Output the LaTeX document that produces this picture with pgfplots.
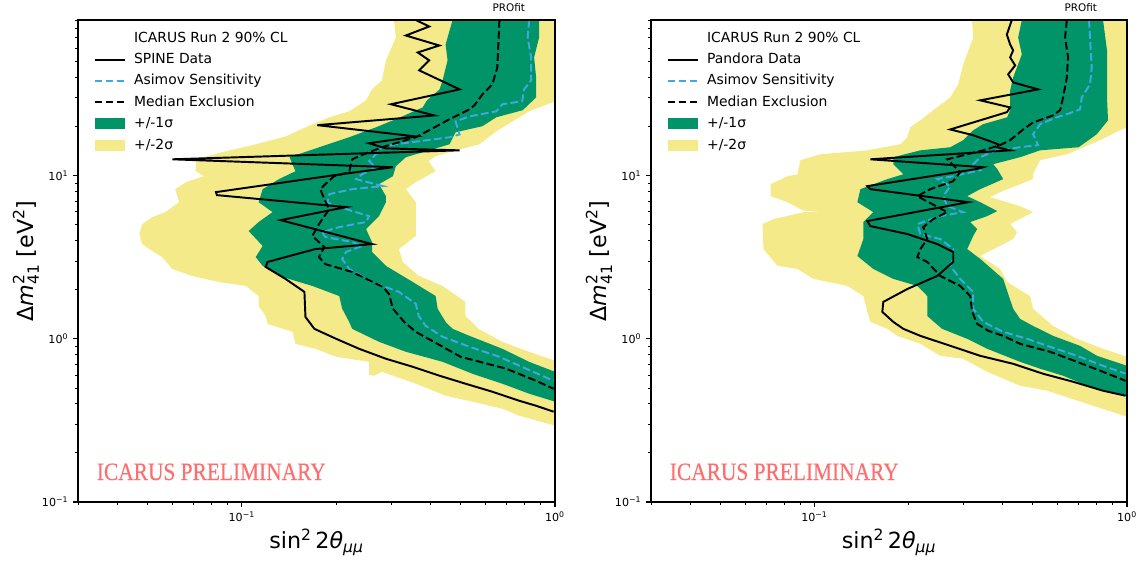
\documentclass[border=0pt]{standalone}
\usepackage{pgfplots}
\pgfplotsset{compat=1.18}
\usepackage{fontspec}
\setmainfont{DejaVu Sans}
\newfontfamily\prelimfont[FakeStretch=0.856, FakeBold=0.3]{Liberation Serif}
\definecolor{sigone}{RGB}{0,148,104}
\definecolor{sigtwo}{RGB}{245,234,138}
\definecolor{asim}{RGB}{60,170,225}
\definecolor{prelim}{RGB}{255,110,110}
\newcommand{\tkl}[1]{10$^{\hbox{\fontsize{5.6}{6}\selectfont #1}}$}
\newcommand{\lsz}[1]{\hbox{\fontsize{11.2}{12}\selectfont #1}}
\tikzset{
  datal/.style={black, line width=1.4pt},
  medl/.style={black, line width=1.4pt, dash pattern=on 5.55pt off 2.4pt},
  asil/.style={asim, line width=1.4pt, dash pattern=on 5.55pt off 2.4pt},
}
\pgfplotsset{
  scale only axis, height=347.04pt,
  xmin=0.03, xmax=1, ymin=0.1, ymax=90,
  xtick={0.1,1}, xticklabels={\tkl{−1},\tkl{0}},
  ytick={0.1,1,10}, yticklabels={\tkl{−1},\tkl{0},\tkl{1}},
  minor xtick={0.03,0.04,0.05,0.06,0.07,0.08,0.09,0.2,0.3,0.4,0.5,0.6,0.7,0.8,0.9},
  minor ytick={0.2,0.3,0.4,0.5,0.6,0.7,0.8,0.9,2,3,4,5,6,7,8,9,20,30,40,50,60,70,80,90},
  tick align=outside, xtick pos=left, ytick pos=left,
  major tick length=3.5pt, minor tick length=2pt,
  major tick style={line width=0.8pt, black},
  minor tick style={line width=0.6pt, black},
  axis line style={line width=0.8pt, black},
  ticklabel style={font=\fontsize{8}{9.6}\selectfont},
  every axis x label/.style={at={(axis description cs:0.5,-0.0974)}, anchor=base, font=\fontsize{16}{19}\selectfont},
  every axis y label/.style={at={(axis description cs:-0.0943,0.5)}, rotate=90, anchor=base, font=\fontsize{16}{19}\selectfont},
  axis on top,
  legend style={at={(0.0327,0.9787)}, anchor=north west, draw=none, fill=none,
    inner sep=0pt, outer sep=0pt, row sep=3.9pt, column sep=5.2pt,
    font=\fontsize{10}{12}\selectfont,
    nodes={inner sep=1pt, text height=7.5pt, text depth=2pt}},
  legend cell align=left,
  extra description/.code={
    \node[anchor=base, font=\fontsize{7.5}{9}\selectfont] at (0.903,1.0167) {PROfit};
    \node[anchor=base west, inner sep=0pt, text=prelim, font=\prelimfont\fontsize{18}{21}\selectfont] at (0.039,0.0456) {ICARUS PRELIMINARY};
  },
}
\newcommand{\legendrest}{%
  \addlegendimage{legend image code/.code={\path[draw=none,fill=none] (0pt,-3.9pt) rectangle (21.6pt,3.9pt); \draw[asil] (0pt,0pt) -- (21.6pt,0pt);}}\addlegendentry{Asimov Sensitivity}
  \addlegendimage{legend image code/.code={\path[draw=none,fill=none] (0pt,-3.9pt) rectangle (21.6pt,3.9pt); \draw[medl] (0pt,0pt) -- (21.6pt,0pt);}}\addlegendentry{Median Exclusion}
  \addlegendimage{legend image code/.code={\fill[sigone, draw=none] (0pt,-3.9pt) rectangle (21.6pt,3.9pt);}}\addlegendentry{+/-1σ}
  \addlegendimage{legend image code/.code={\fill[sigtwo, draw=none] (0pt,-3.9pt) rectangle (21.6pt,3.9pt);}}\addlegendentry{+/-2σ}
}
\begin{document}
\begin{tikzpicture}
\useasboundingbox (0,0) rectangle (824.4pt,403.92pt);
% ---------------- left panel: SPINE ----------------
\begin{axis}[xmode=log, ymode=log, at={(56.16pt,42.48pt)}, anchor=south west, width=343.44pt,
  xlabel={sin$^{\lsz{2}}$\,2\textit{θ}$_{\lsz{\textit{μμ}}}$},
  ylabel={Δ\textit{m}$^{\lsz{2}}_{\lsz{41}}$ [eV$^{\lsz{2}}$]}]
\addplot[fill=sigtwo, draw=none, forget plot] coordinates {
(0.3060,90) (0.3105,70.3) (0.2886,50.9) (0.2803,38.4) (0.2605,33.8) (0.2493,28.96) (0.2202,24.8) (0.1903,22.8) (0.1597,19.8) (0.1379,17.4) (0.1108,15.58) (0.0864,13.92) (0.0714,12.6) (0.0714,10.65) (0.0757,9.93) (0.0664,9.13) (0.0613,8.27) (0.0631,6.88) (0.0570,5.98) (0.0518,5.57) (0.0481,5.05) (0.0471,4.39) (0.0481,3.81) (0.0518,3.45) (0.0557,3.17) (0.0600,2.68) (0.0694,2.43) (0.0845,2.23) (0.1030,2.11) (0.1132,1.83) (0.1132,1.59) (0.1192,1.38) (0.1209,1.235) (0.1452,1.104) (0.1484,0.932) (0.1717,0.869) (0.2002,0.776) (0.2549,0.723) (0.2549,0.602) (0.2643,0.594) (0.2803,0.628) (0.3594,0.531) (0.4475,0.448) (0.5451,0.412) (0.679,0.373) (0.7686,0.338) (1,0.2937)
(1,0.734) (0.827,0.833) (0.679,0.959) (0.5695,1.152) (0.5179,1.38) (0.5179,1.684) (0.4377,2.11) (0.3673,2.43) (0.3268,2.96) (0.3174,3.55) (0.3594,4.27) (0.3594,5.42) (0.3594,6.88) (0.3342,8.27) (0.3594,9.13) (0.4159,10.65) (0.3953,12.27) (0.4159,13.16) (0.471,14.1) (0.5738,15.58) (0.6496,18.72) (0.827,24.8) (1,28.56) (1,90)
};
\addplot[fill=sigone, draw=none, forget plot] coordinates {
(0.471,90) (0.4607,77.6) (0.4475,63.7) (0.4540,50.9) (0.4377,38.4) (0.4281,33.8) (0.3900,28.96) (0.378,26.2) (0.3105,22.2) (0.2683,19.8) (0.2202,17.2) (0.1768,14.94) (0.1421,12.98) (0.1484,10.65) (0.1315,9.53) (0.1166,8.27) (0.1132,6.88) (0.1254,5.98) (0.1132,5.20) (0.1052,4.58) (0.1166,3.71) (0.1108,3.17) (0.1166,2.80) (0.1315,2.43) (0.1680,2.11) (0.2047,1.83) (0.2092,1.53) (0.2202,1.27) (0.2251,1.152) (0.2742,0.959) (0.3342,0.833) (0.4377,0.723) (0.5451,0.611) (0.679,0.531) (0.827,0.461) (1,0.412)
(1,0.628) (0.827,0.723) (0.679,0.869) (0.5333,1.043) (0.471,1.152) (0.4475,1.27) (0.4220,1.53) (0.4159,1.83) (0.3516,2.23) (0.2886,2.80) (0.2605,3.41) (0.2605,3.92) (0.2493,4.71) (0.2742,5.65) (0.2886,6.88) (0.2886,7.49) (0.2742,8.87) (0.3038,9.93) (0.3105,11.43) (0.3342,12.98) (0.3867,14.1) (0.4607,15.58) (0.4815,18.45) (0.5864,20.1) (0.6496,22.8) (0.7887,25.2) (0.8705,30.2) (0.8705,40.0) (0.8577,53.1) (0.8895,70.3) (0.8895,90)
};
\addplot[asil, forget plot] coordinates {
(0.827,90) (0.818,70.3) (0.839,53.1) (0.839,38.4) (0.797,33.8) (0.786,28.6) (0.679,27.4) (0.6496,24.8) (0.5333,23.1) (0.4815,21.5) (0.4958,17.9) (0.4607,17.2) (0.3105,15.58) (0.2803,14.94) (0.2683,13.53) (0.2549,12.27) (0.2683,11.27) (0.2422,10.2) (0.2318,9.53) (0.2823,8.63) (0.2251,8.27) (0.1903,7.71) (0.1875,6.88) (0.2047,6.42) (0.2549,5.65) (0.2493,5.20) (0.2047,4.84) (0.1807,4.51) (0.1848,4.21) (0.2251,3.92) (0.2422,3.71) (0.2154,3.41) (0.2092,3.09) (0.2202,2.68) (0.2605,2.23) (0.3174,1.94) (0.3594,1.64) (0.3673,1.38) (0.3867,1.20) (0.4377,1.03) (0.5333,0.894) (0.6645,0.776) (0.809,0.656) (0.99,0.553)
};
\addplot[medl, forget plot] coordinates {
(0.6645,90) (0.6545,46.1) (0.6310,36.3) (0.5864,31.5) (0.5532,27.0) (0.5333,25.5) (0.4607,22.2) (0.413,19.8) (0.3594,17.2) (0.2803,14.94) (0.2454,13.53) (0.2251,12.6) (0.2202,10.5) (0.1973,9.93) (0.1848,8.87) (0.1781,8.27) (0.1835,7.18) (0.1903,6.24) (0.1764,5.05) (0.1680,4.27) (0.1835,3.65) (0.1764,3.17) (0.1848,2.87) (0.2251,2.57) (0.2823,2.08) (0.2950,1.885) (0.3038,1.53) (0.33,1.27) (0.3594,1.104) (0.41,0.959) (0.50,0.776) (0.6990,0.656) (0.8705,0.553) (0.99,0.494)
};
\addplot[datal, forget plot] coordinates {
(0.3594,90) (0.3967,82.1) (0.3342,72.3) (0.4271,62.8) (0.3647,56.9) (0.3967,50.9) (0.3686,44.2) (0.4958,33.8) (0.2994,27.4) (0.4118,23.4) (0.1743,20.4) (0.3594,17.4) (0.2549,15.8) (0.2886,14.7) (0.4958,14.3) (0.0600,12.6) (0.3038,11.27) (0.1973,10.07) (0.0827,7.93) (0.0833,7.60) (0.2154,6.42) (0.1330,5.34) (0.2605,3.81) (0.1717,3.55) (0.1379,3.17) (0.1209,2.96) (0.1192,2.76) (0.1379,2.33) (0.1585,1.94) (0.1597,1.363) (0.1705,1.152) (0.2002,1.0) (0.2369,0.869) (0.2886,0.755) (0.3516,0.674) (0.4281,0.594) (0.5179,0.531) (0.6310,0.474) (0.7686,0.4176) (0.8705,0.389) (0.99,0.3577)
};
\addlegendimage{empty legend}\addlegendentry{ICARUS Run 2 90\% CL}
\addlegendimage{legend image code/.code={\path[draw=none,fill=none] (0pt,-3.9pt) rectangle (21.6pt,3.9pt); \draw[datal] (0pt,0pt) -- (21.6pt,0pt);}}\addlegendentry{SPINE Data}
\legendrest
\end{axis}
% ---------------- right panel: Pandora ----------------
\begin{axis}[xmode=log, ymode=log, at={(468.72pt,42.48pt)}, anchor=south west, width=342.72pt,
  xlabel={sin$^{\lsz{2}}$\,2\textit{θ}$_{\lsz{\textit{μμ}}}$},
  ylabel={Δ\textit{m}$^{\lsz{2}}_{\lsz{41}}$ [eV$^{\lsz{2}}$]}]
\addplot[fill=sigtwo, draw=none, forget plot] coordinates {
(0.3191,90) (0.3221,70.3) (0.2992,48.1) (0.2884,36.3) (0.2719,30.2) (0.2400,25.2) (0.2182,21.85) (0.2026,19.8) (0.1982,17.2) (0.1883,15.58) (0.1477,14.3) (0.1045,13.53) (0.0902,12.44) (0.0882,10.2) (0.0820,9.93) (0.0724,8.87) (0.0724,7.49) (0.0820,6.88) (0.0922,6.1) (0.1045,6.07) (0.0922,5.98) (0.0740,5.42) (0.0682,5.05) (0.0687,3.55) (0.0762,2.80) (0.0882,2.68) (0.0993,2.33) (0.1275,2.11) (0.1434,1.83) (0.1477,1.463) (0.1510,1.27) (0.1711,1.152) (0.1842,1.043) (0.2182,0.932) (0.2527,0.787) (0.2992,0.755) (0.3571,0.628) (0.4550,0.516) (0.5552,0.481) (0.7453,0.400) (1,0.333)
(1,0.776) (0.8381,0.869) (0.6923,1.0) (0.5801,1.20) (0.5006,1.53) (0.4897,1.83) (0.4136,2.23) (0.3928,2.68) (0.3392,3.22) (0.4323,4.09) (0.4452,4.51) (0.4228,5.05) (0.5006,5.98) (0.4550,6.51) (0.3650,7.39) (0.3928,7.93) (0.5006,9.53) (0.5006,10.2) (0.5272,12.44) (0.6430,13.53) (0.82,16.5) (0.9498,18.98) (1,19.8) (1,90)
};
\addplot[fill=sigone, draw=none, forget plot] coordinates {
(0.4609,90) (0.4485,70.3) (0.4609,55.4) (0.4323,40.0) (0.4228,33.3) (0.4228,25.2) (0.4136,22.8) (0.3467,20.7) (0.3221,18.98) (0.2992,16.5) (0.2719,14.94) (0.2182,14.3) (0.1788,12.98) (0.1788,11.76) (0.1925,10.2) (0.1711,9.53) (0.1403,8.27) (0.1372,6.88) (0.1543,5.98) (0.1434,5.20) (0.1434,4.09) (0.1372,3.22) (0.1543,2.68) (0.1788,2.33) (0.2134,2.11) (0.2296,1.83) (0.2296,1.38) (0.2560,1.152) (0.3082,1.0) (0.3571,0.869) (0.4550,0.723) (0.5272,0.656) (0.6246,0.594) (0.7453,0.516) (1,0.448)
(1,0.684) (0.8020,0.787) (0.7077,0.906) (0.5801,1.043) (0.5006,1.20) (0.4550,1.325) (0.4323,1.53) (0.4017,2.33) (0.3392,3.09) (0.3082,3.55) (0.3221,4.27) (0.3317,4.71) (0.3151,5.20) (0.3571,5.65) (0.3844,6.07) (0.3392,6.88) (0.3082,7.49) (0.3392,8.27) (0.4017,9.53) (0.3844,11.0) (0.3731,11.76) (0.4550,12.98) (0.5272,14.3) (0.70,14.94) (0.80,17.94) (0.8695,21.85) (0.8631,30.2) (0.8631,58.6) (0.8381,90)
};
\addplot[asil, forget plot] coordinates {
(0.7560,90) (0.7615,70.3) (0.7712,46.1) (0.7615,36.3) (0.7167,30.2) (0.7077,25.5) (0.6418,23.8) (0.5962,22.8) (0.5272,20.7) (0.5006,17.94) (0.5195,15.4) (0.4550,14.94) (0.3835,14.3) (0.3392,12.98) (0.3221,11.76) (0.3392,10.8) (0.2780,9.93) (0.2472,9.53) (0.2719,8.63) (0.2583,7.49) (0.2660,6.51) (0.2992,5.98) (0.2527,5.65) (0.2134,5.05) (0.2182,4.39) (0.2527,4.09) (0.2780,3.55) (0.2780,3.09) (0.2719,2.80) (0.2927,2.33) (0.3221,1.94) (0.3221,1.53) (0.3467,1.27) (0.4017,1.104) (0.4793,1.0) (0.5675,0.894) (0.6923,0.787) (0.8381,0.684) (0.99,0.611)
};
\addplot[medl, forget plot] coordinates {
(0.6418,90) (0.6339,70.3) (0.6480,53.1) (0.6418,40.0) (0.6246,30.2) (0.6110,25.2) (0.5801,23.4) (0.5006,21.2) (0.4653,19.2) (0.4228,16.5) (0.3928,15.4) (0.3467,14.3) (0.3082,13.53) (0.2660,12.6) (0.2927,10.5) (0.2780,9.26) (0.2348,8.27) (0.2134,7.49) (0.2660,5.98) (0.2400,5.42) (0.2230,4.84) (0.2296,4.09) (0.2182,3.55) (0.2134,3.17) (0.2296,2.96) (0.2527,2.43) (0.2927,2.11) (0.3151,1.83) (0.3197,1.463) (0.3317,1.235) (0.3600,1.12) (0.4017,1.043) (0.4550,0.932) (0.5675,0.833) (0.6923,0.723) (0.8381,0.628) (0.99,0.553)
};
\addplot[datal, forget plot] coordinates {
(0.4281,90) (0.4127,73.3) (0.4228,63.7) (0.4323,58.6) (0.4228,53.1) (0.4387,47.4) (0.4167,41.8) (0.4323,37.3) (0.5195,33.8) (0.3392,28.96) (0.4228,26.2) (0.4127,24.5) (0.2719,19.2) (0.3221,17.7) (0.3571,16.5) (0.3872,15.58) (0.3844,14.94) (0.4228,14.3) (0.1510,12.6) (0.3467,11.27) (0.3317,11.0) (0.1477,8.63) (0.1510,8.27) (0.3105,6.88) (0.1477,5.27) (0.1510,4.91) (0.1982,4.39) (0.2472,3.81) (0.2780,3.41) (0.2780,2.96) (0.2472,2.43) (0.1982,2.02) (0.1661,1.684) (0.1649,1.463) (0.1788,1.27) (0.1925,1.152) (0.2182,1.043) (0.2780,0.894) (0.3392,0.787) (0.4323,0.703) (0.5390,0.611) (0.6720,0.546) (0.8381,0.481) (0.99,0.448)
};
\addlegendimage{empty legend}\addlegendentry{ICARUS Run 2 90\% CL}
\addlegendimage{legend image code/.code={\path[draw=none,fill=none] (0pt,-3.9pt) rectangle (21.6pt,3.9pt); \draw[datal] (0pt,0pt) -- (21.6pt,0pt);}}\addlegendentry{Pandora Data}
\legendrest
\end{axis}
\end{tikzpicture}
\end{document}
